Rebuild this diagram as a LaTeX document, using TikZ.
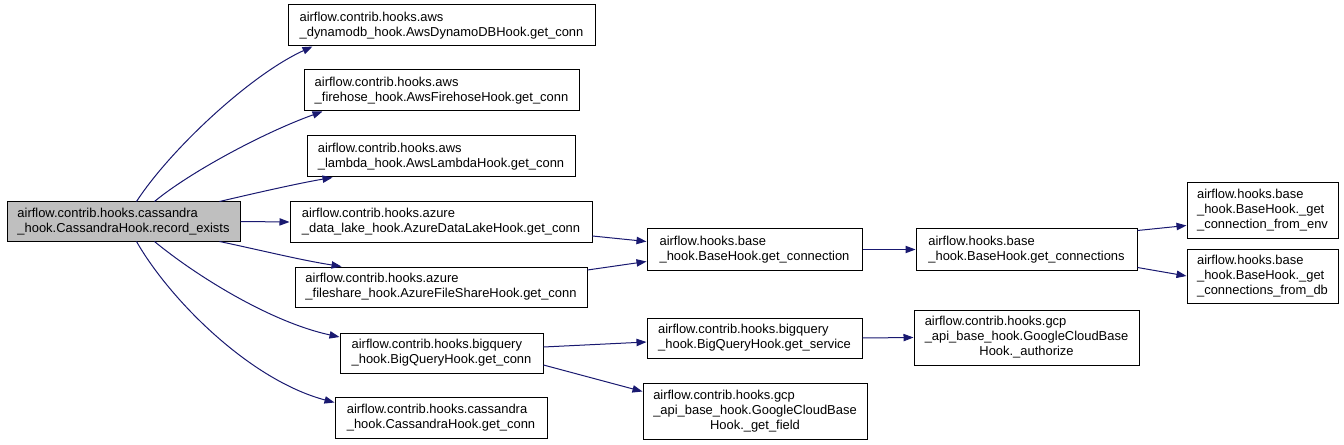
\documentclass[tikz,border=0pt]{standalone}
\usepackage{fontspec}
\setmainfont{Liberation Sans}
\usetikzlibrary{arrows.meta,calc}
\definecolor{edgeblue}{RGB}{25,25,112}
\definecolor{rootgray}{RGB}{191,191,191}
\tikzset{
  fn/.style={draw=black, line width=0.75pt, inner sep=0pt, align=left, fill=white,
    font=\fontsize{9.7}{11.25}\selectfont},
  rootfn/.style={fn, fill=rootgray},
  call/.style={draw=edgeblue, line width=0.75pt, -{Triangle[length=7.5pt,width=5.5pt]}},
}
\begin{document}
\begin{tikzpicture}[x=0.75pt,y=-0.75pt]
\useasboundingbox (0,0) rectangle (1344,445);
\node[rootfn, minimum width=174.75pt, minimum height=29.25pt] (root) at (123.5,221.5)
  {airflow.contrib.hooks.cassandra\\\_hook.CassandraHook.record\_exists};
\node[fn, minimum width=230.25pt, minimum height=30.75pt] (n1) at (441.5,25.5)
  {airflow.contrib.hooks.aws\\\_dynamodb\_hook.AwsDynamoDBHook.get\_conn};
\node[fn, minimum width=206.25pt, minimum height=30.75pt] (n2) at (441.5,90.5)
  {airflow.contrib.hooks.aws\\\_firehose\_hook.AwsFirehoseHook.get\_conn};
\node[fn, minimum width=201pt, minimum height=30.75pt] (n3) at (441,156.5)
  {airflow.contrib.hooks.aws\\\_lambda\_hook.AwsLambdaHook.get\_conn};
\node[fn, minimum width=226.5pt, minimum height=30pt] (n4) at (441,222)
  {airflow.contrib.hooks.azure\\\_data\_lake\_hook.AzureDataLakeHook.get\_conn};
\node[fn, minimum width=219pt, minimum height=30pt] (n5) at (441,287)
  {airflow.contrib.hooks.azure\\\_fileshare\_hook.AzureFileShareHook.get\_conn};
\node[fn, minimum width=152.25pt, minimum height=30pt] (n6) at (441.5,353)
  {airflow.contrib.hooks.bigquery\\\_hook.BigQueryHook.get\_conn};
\node[fn, minimum width=159pt, minimum height=30.75pt] (n7) at (441,417.5)
  {airflow.contrib.hooks.cassandra\\\_hook.CassandraHook.get\_conn};
\node[fn, minimum width=161.25pt, minimum height=30.75pt] (n8) at (754.5,249.5)
  {airflow.hooks.base\\\_hook.BaseHook.get\_connection};
\node[fn, minimum width=165.75pt, minimum height=30.75pt] (n9) at (1026.5,249.5)
  {airflow.hooks.base\\\_hook.BaseHook.get\_connections};
\node[fn, minimum width=161.25pt, minimum height=30pt] (n10) at (754.5,338)
  {airflow.contrib.hooks.bigquery\\\_hook.BigQueryHook.get\_service};
\node[fn, minimum width=168.75pt, minimum height=41.25pt] (n11) at (1026.5,337.5)
  {\begin{tabular}{@{}l@{}}airflow.contrib.hooks.gcp\\\_api\_base\_hook.GoogleCloudBase\\\multicolumn{1}{@{}c@{}}{Hook.\_authorize}\end{tabular}};
\node[fn, minimum width=168pt, minimum height=42pt] (n12) at (755,411)
  {\begin{tabular}{@{}l@{}}airflow.contrib.hooks.gcp\\\_api\_base\_hook.GoogleCloudBase\\\multicolumn{1}{@{}c@{}}{Hook.\_get\_field}\end{tabular}};
\node[fn, minimum width=113.25pt, minimum height=41.25pt] (n13) at (1262.5,210.5)
  {airflow.hooks.base\\\_hook.BaseHook.\_get\\\_connection\_from\_env};
\node[fn, minimum width=113.25pt, minimum height=40.5pt] (n14) at (1262.5,276)
  {airflow.hooks.base\\\_hook.BaseHook.\_get\\\_connections\_from\_db};

\draw[call] ($(root.north west)+(130,0)$) .. controls (170,150) and (250,75) .. ($(n1.south west)+(25,0)$);
\draw[call] ($(root.north west)+(148,0)$) .. controls (190,172) and (265,132) .. ($(n2.south west)+(19,0)$);
\draw[call] ($(root.north west)+(213,0)$) .. controls (260,192) and (300,183) .. ($(n3.south west)+(26,0)$);
\draw[call] (root.east) -- (n4.west);
\draw[call] ($(root.south west)+(213,0)$) .. controls (260,250) and (300,260) .. ($(n5.north west)+(47,0)$);
\draw[call] ($(root.south west)+(148,0)$) .. controls (195,275) and (270,322) .. ($(n6.west)+(0,-16)$);
\draw[call] ($(root.south west)+(130,0)$) .. controls (170,300) and (250,380) .. ($(n7.west)+(0,-15)$);
\draw[call] ($(n4.east)+(0,14)$) -- ($(n8.west)+(0,-8)$);
\draw[call] ($(n5.east)+(0,-17)$) -- ($(n8.west)+(0,12)$);
\draw[call] (n8.east) -- (n9.west);
\draw[call] ($(n9.east)+(0,-19)$) -- ($(n13.west)+(0,15)$);
\draw[call] ($(n9.east)+(0,18)$) -- (n14.west);
\draw[call] ($(n6.east)+(0,-6)$) -- ($(n10.west)+(0,4)$);
\draw[call] ($(n6.east)+(0,12)$) -- ($(n12.north west)+(0,9)$);
\draw[call] (n10.east) -- (n11.west);
\end{tikzpicture}
\end{document}
